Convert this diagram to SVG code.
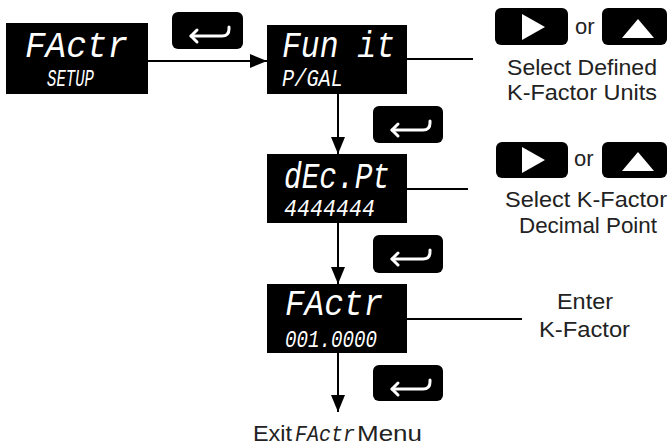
<svg xmlns="http://www.w3.org/2000/svg" width="672" height="447" viewBox="0 0 672 447">
<style>
.disp{fill:#000}
.key{fill:#000}
.big{font-family:"Liberation Mono","DejaVu Sans Mono",monospace;font-style:italic;font-size:37px;fill:#fff}
.small{font-family:"Liberation Mono","DejaVu Sans Mono",monospace;font-style:italic;font-size:23px;fill:#fff}
.lbl{font-family:"Liberation Sans",Arial,sans-serif;font-size:22px;fill:#222}
.conn{stroke:#000;stroke-width:2;fill:none}
.ico{stroke:#fff;stroke-width:3;fill:none;stroke-linecap:round;stroke-linejoin:round}
</style>
<defs>
<marker id="ah" markerUnits="userSpaceOnUse" markerWidth="18" markerHeight="14" refX="17" refY="7" orient="auto">
<polygon points="0,0 17,7 0,14" fill="#000"/>
</marker>
<g id="enter">
<path class="ico" d="M19 24 H50 Q57 24 57 17 V15"/>
<polyline class="ico" points="25,18 19,24 25,30"/>
</g>
</defs>
<rect width="672" height="447" fill="#fff"/>

<g id="connectors">
<line class="conn" x1="148" y1="61" x2="267" y2="61" marker-end="url(#ah)"/>
<line class="conn" x1="338" y1="94" x2="338" y2="154" marker-end="url(#ah)"/>
<line class="conn" x1="338" y1="223" x2="338" y2="284" marker-end="url(#ah)"/>
<line class="conn" x1="338" y1="353" x2="338" y2="412" marker-end="url(#ah)"/>
<line class="conn" x1="407" y1="59" x2="473" y2="59"/>
<line class="conn" x1="407" y1="189" x2="468" y2="189"/>
<line class="conn" x1="407" y1="319" x2="522" y2="319"/>
</g>

<g id="node-factr-setup">
<rect class="disp" x="6" y="23" width="142" height="71"/>
<text class="big" x="25" y="57" textLength="103" lengthAdjust="spacingAndGlyphs">FActr</text>
<text class="small" x="47" y="86" textLength="47" lengthAdjust="spacingAndGlyphs">SETUP</text>
</g>

<g id="node-funit">
<rect class="disp" x="267" y="25" width="140" height="69"/>
<text class="big" x="282" y="57" textLength="113" lengthAdjust="spacingAndGlyphs">Fun it</text>
<text class="small" x="282" y="86" textLength="61" lengthAdjust="spacingAndGlyphs">P/GAL</text>
</g>

<g id="node-decpt">
<rect class="disp" x="267" y="154" width="140" height="69"/>
<text class="big" x="284" y="188" textLength="106" lengthAdjust="spacingAndGlyphs">dEc.Pt</text>
<text class="small" x="284" y="216" font-size="17" textLength="91" lengthAdjust="spacingAndGlyphs">4444444</text>
</g>

<g id="node-factr-value">
<rect class="disp" x="267" y="284" width="140" height="69"/>
<text class="big" x="285" y="315" textLength="98" lengthAdjust="spacingAndGlyphs">FActr</text>
<text class="small" x="285" y="347" font-size="27" textLength="92" lengthAdjust="spacingAndGlyphs">001.0000</text>
</g>

<g id="enter-keys">
<rect class="key" x="172" y="12" width="71" height="37" rx="6"/>
<use href="#enter" x="172" y="12"/>
<rect class="key" x="373" y="106" width="70" height="37" rx="6"/>
<use href="#enter" x="373" y="106"/>
<rect class="key" x="373" y="235" width="70" height="38" rx="6"/>
<use href="#enter" x="373" y="235"/>
<rect class="key" x="373" y="365" width="70" height="36" rx="6"/>
<use href="#enter" x="373" y="365"/>
</g>

<g id="select-units">
<rect class="key" x="495" y="8" width="73" height="37" rx="6"/>
<polygon points="522,14 545,27 522,40" fill="#fff"/>
<text class="lbl" x="575" y="34">or</text>
<rect class="key" x="602" y="8" width="65" height="37" rx="6"/>
<polygon points="638,19 654,38 622,38" fill="#fff"/>
<text class="lbl" x="507" y="75" textLength="150" lengthAdjust="spacingAndGlyphs">Select Defined</text>
<text class="lbl" x="507" y="100" textLength="150" lengthAdjust="spacingAndGlyphs">K-Factor Units</text>
</g>

<g id="select-decimal">
<rect class="key" x="496" y="142" width="72" height="36" rx="6"/>
<polygon points="522,147 545,160 522,173" fill="#fff"/>
<text class="lbl" x="574" y="166">or</text>
<rect class="key" x="602" y="142" width="65" height="36" rx="6"/>
<polygon points="638,152 654,171 622,171" fill="#fff"/>
<text class="lbl" x="505" y="207" textLength="162" lengthAdjust="spacingAndGlyphs">Select K-Factor</text>
<text class="lbl" x="519" y="233" textLength="138" lengthAdjust="spacingAndGlyphs">Decimal Point</text>
</g>

<g id="enter-kfactor">
<text class="lbl" x="557" y="309" textLength="56" lengthAdjust="spacingAndGlyphs">Enter</text>
<text class="lbl" x="539" y="337" textLength="91" lengthAdjust="spacingAndGlyphs">K-Factor</text>
</g>

<g id="exit">
<text class="lbl" x="253" y="441" textLength="39" lengthAdjust="spacingAndGlyphs">Exit</text>
<text x="295" y="441" font-family="Liberation Mono, DejaVu Sans Mono, monospace" font-style="italic" font-size="22" fill="#222" textLength="60" lengthAdjust="spacingAndGlyphs">FActr</text>
<text class="lbl" x="357" y="441" textLength="65" lengthAdjust="spacingAndGlyphs">Menu</text>
</g>
</svg>
